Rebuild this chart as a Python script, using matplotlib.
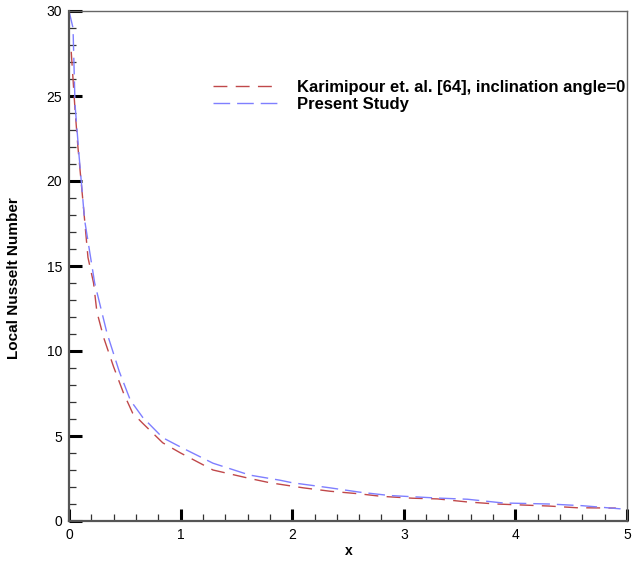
import matplotlib
matplotlib.use("Agg")
import matplotlib.pyplot as plt
from matplotlib.ticker import MultipleLocator

plt.rcParams['font.family'] = ['Liberation Sans', 'DejaVu Sans']

# Karimipour et. al. [64]
ref_x = [0.02, 0.054, 0.08, 0.125, 0.17, 0.22, 0.25, 0.31, 0.40, 0.49, 0.57, 0.66,
         0.84, 1.0, 1.29, 1.62, 1.8, 2.1, 2.34, 2.6, 2.8, 3.08, 3.3, 3.57, 3.83,
         4.3, 4.55, 4.9]
ref_y = [27.6, 24.2, 22.0, 18.8, 15.5, 14.0, 12.3, 10.8, 9.06, 7.5, 6.35, 5.75,
         4.6, 4.0, 3.0, 2.5, 2.25, 1.95, 1.75, 1.6, 1.45, 1.34, 1.3, 1.12, 1.0,
         0.88, 0.78, 0.76]

# Present Study
pres_x = [0.0, 0.036, 0.054, 0.09, 0.14, 0.23, 0.34, 0.45, 0.55, 0.66, 0.84, 1.0,
          1.29, 1.62, 1.89, 2.0, 2.34, 2.6, 2.87, 3.3, 3.57, 3.89, 4.3, 4.6, 4.97]
pres_y = [30.0, 29.0, 24.5, 21.5, 17.7, 14.0, 11.06, 8.8, 7.1, 6.1, 4.9, 4.35,
          3.4, 2.7, 2.4, 2.25, 1.95, 1.7, 1.5, 1.35, 1.28, 1.06, 1.0, 0.9, 0.7]

labels = ["Karimipour et. al. [64], inclination angle=0", "Present Study"]

fig = plt.figure(figsize=(6.35, 5.62), dpi=100)
ax = fig.add_axes([69/635, 41/562, 558/635, 510/562])

ax.plot(ref_x, ref_y, color='#c0484a', lw=1.0, dashes=(10, 6), label=labels[0])
ax.plot(pres_x, pres_y, color='#7f7fff', lw=1.0, dashes=(12, 5), label=labels[1])

ax.set_xlim(0, 5)
ax.set_ylim(0, 30)
ax.xaxis.set_major_locator(MultipleLocator(1))
ax.xaxis.set_minor_locator(MultipleLocator(0.2))
ax.yaxis.set_major_locator(MultipleLocator(5))
ax.yaxis.set_minor_locator(MultipleLocator(1))

ax.tick_params(which='major', direction='in', length=9, width=2.2, color='black',
               labelsize=10, pad=5)
ax.tick_params(which='minor', direction='in', length=5, width=0.9, color='#333333')
ax.tick_params(top=False, right=False, which='both')

for s in ['left', 'bottom']:
    ax.spines[s].set_color('#555555')
    ax.spines[s].set_linewidth(1.6)
for s in ['top', 'right']:
    ax.spines[s].set_color('#666666')
    ax.spines[s].set_linewidth(1.0)

ax.set_xlabel('x', fontsize=10, fontweight='bold')
ax.xaxis.set_label_coords(0.501, -0.046)
ax.set_ylabel('Local Nusselt Number', fontsize=11, fontweight='bold')
ax.yaxis.set_label_coords(-0.086, 0.476)

leg = ax.legend(loc='upper left', bbox_to_anchor=(0.244, 0.882), frameon=False,
                prop={'size': 12, 'weight': 'bold'}, handlelength=3.9,
                handletextpad=1.1, labelspacing=0.15, borderpad=0)

fig.savefig('out.png', dpi=100)
